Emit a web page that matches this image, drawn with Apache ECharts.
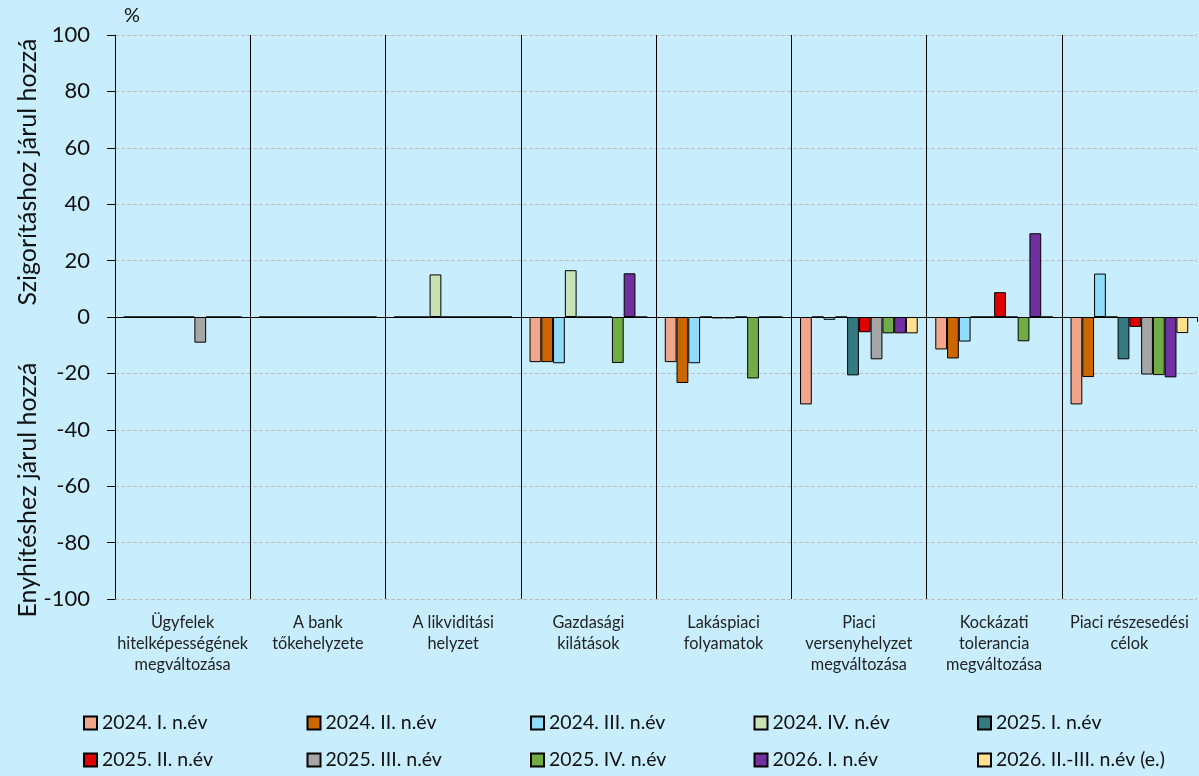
<!DOCTYPE html>
<html>
<head>
<meta charset="utf-8">
<script src="https://cdn.jsdelivr.net/npm/echarts@6/dist/echarts.min.js"></script>
<style>
  html, body { margin: 0; padding: 0; background: #C8EEFE; }
  #chart { width: 1199px; height: 776px; }
</style>
</head>
<body>
<div id="chart"></div>
<script>
// kategóriák
var categories = [
    'Ügyfelek\nhitelképességének\nmegváltozása',
    'A bank\ntőkehelyzete',
    'A likviditási\nhelyzet',
    'Gazdasági\nkilátások',
    'Lakáspiaci\nfolyamatok',
    'Piaci\nversenyhelyzet\nmegváltozása',
    'Kockázati\ntolerancia\nmegváltozása',
    'Piaci részesedési\ncélok'
];

// sorozatok nevei
var seriesNames = [
    '2024. I. n.év', '2024. II. n.év', '2024. III. n.év', '2024. IV. n.év', '2025. I. n.év',
    '2025. II. n.év', '2025. III. n.év', '2025. IV. n.év', '2026. I. n.év', '2026. II.-III. n.év (e.)'
];

// értékek (%)
var q2024_1 = [0, 0, 0, -16, -16, -31, -11.5, -31];
var q2024_2 = [0, 0, 0, -16, -23.4, 0, -14.7, -21.3];
var q2024_3 = [0, 0, 0, -16.4, -16.4, -1, -8.7, 15.4];
var q2024_4 = [0, 0, 15.1, 16.6, 0, 0, 0, 0];
var q2025_1 = [0, 0, 0, 0, -0.5, -20.7, 0, -15];
var q2025_2 = [0, 0, 0, 0, -0.5, -5.4, 8.8, -3.5];
var q2025_3 = [-9.1, 0, 0, 0, 0, -15, 0, -20.4];
var q2025_4 = [0, 0, 0, -16.3, -21.8, -5.8, -8.6, -20.6];
var q2026_1 = [0, 0, 0, 15.5, 0, -5.8, 29.7, -21.4];
var q2026_23 = [0, 0, 0, 0, 0, -5.8, 0, -5.7];

var seriesValues = [q2024_1, q2024_2, q2024_3, q2024_4, q2025_1, q2025_2, q2025_3, q2025_4, q2026_1, q2026_23];
var colors = ['#F0A68A', '#CC6600', '#8FDDFB', '#C9E2B5', '#357A81', '#E00000', '#A6A6A6', '#70AD47', '#7030A0', '#FFE08F'];

var font = 'Lato, "Open Sans", sans-serif';

// jelmagyarázat: 2 sor, 5 oszlop, fix oszlopszélesség
var legends = seriesNames.map(function (name, i) {
    return {
        data: [name],
        icon: 'rect',
        left: 78 + (i % 5) * 223.5,
        top: i < 5 ? 708 : 745,
        itemWidth: 13,
        itemHeight: 13,
        textStyle: { fontFamily: font, fontSize: 19.5, color: '#111' }
    };
});

var chart = echarts.init(document.getElementById('chart'));
var option = {
    backgroundColor: '#C8EEFE',
    animation: false,
    textStyle: { fontFamily: font },
    grid: { left: 115, right: 2, top: 35, bottom: 177 },
    legend: legends,
    xAxis: [{
        type: 'category',
        data: categories,
        position: 'bottom',
        axisLine: { show: false, onZero: false },
        axisTick: { show: false },
        axisLabel: { fontSize: 16.3, color: '#222', lineHeight: 21, margin: 13, interval: 0 },
        splitLine: {
            show: true,
            showMinLine: false,
            showMaxLine: false,
            lineStyle: { color: '#000', width: 1 }
        }
    }, {
        // nulla vonal
        type: 'category',
        data: categories,
        position: 'bottom',
        axisLine: { show: true, onZero: true, lineStyle: { color: '#000', width: 1 } },
        axisTick: { show: true, length: 5, lineStyle: { color: '#000' } },
        axisLabel: { show: false },
        splitLine: { show: false }
    }],
    yAxis: {
        type: 'value',
        min: -100,
        max: 100,
        interval: 20,
        axisLine: { show: true, lineStyle: { color: '#000', width: 1 } },
        axisTick: { show: true, length: 8, lineStyle: { color: '#000' } },
        axisLabel: { fontSize: 22, color: '#111', margin: 25 },
        splitLine: { show: true, lineStyle: { color: '#BDBDBD', type: 'dashed', width: 1 } }
    },
    graphic: [{
        type: 'text',
        left: 124,
        top: 6,
        style: { text: '%', fontFamily: font, fontSize: 20, fill: '#111' }
    }, {
        type: 'text',
        x: 28,
        y: 172,
        rotation: Math.PI / 2,
        style: { text: 'Szigorításhoz járul hozzá', fontFamily: font, fontSize: 25, fill: '#111', align: 'center', verticalAlign: 'middle' }
    }, {
        type: 'text',
        x: 28,
        y: 490,
        rotation: Math.PI / 2,
        style: { text: 'Enyhítéshez járul hozzá', fontFamily: font, fontSize: 25, fill: '#111', align: 'center', verticalAlign: 'middle' }
    }],
    series: seriesValues.map(function (vals, i) {
        return {
            type: 'bar',
            name: seriesNames[i],
            data: vals,
            xAxisIndex: 0,
            barGap: '0%',
            barCategoryGap: '13%',
            itemStyle: { color: colors[i], borderColor: '#000', borderWidth: 1 }
        };
    })
};
chart.setOption(option);
</script>
</body>
</html>
